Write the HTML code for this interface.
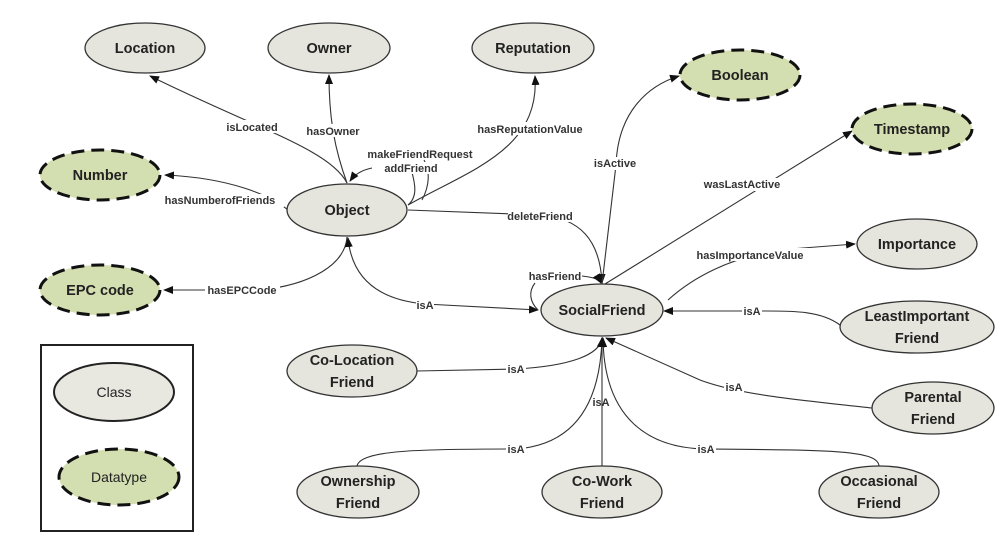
<!DOCTYPE html>
<html><head><meta charset="utf-8"><style>
body{margin:0;background:#fff;}
svg{display:block;}
.c{fill:#e5e5dd;stroke:#333;stroke-width:1.3}
.d{fill:#d3dfb0;stroke:#111;stroke-width:3;stroke-dasharray:13,7}
.n{font-family:"Liberation Sans",sans-serif;font-weight:bold;font-size:14.5px;fill:#222;text-anchor:middle}
.l{font-family:"Liberation Sans",sans-serif;font-weight:bold;font-size:11px;fill:#333;text-anchor:middle}
.e{fill:none;stroke:#333;stroke-width:1.1}
.lb{fill:#fff}
</style></head><body>
<svg width="1000" height="544" viewBox="0 0 1000 544" xmlns="http://www.w3.org/2000/svg">
<defs><marker id="a" markerWidth="10" markerHeight="8" refX="9" refY="4" orient="auto-start-reverse" markerUnits="userSpaceOnUse"><path d="M0,0 L10,4 L0,8 z" fill="#111"/></marker></defs>

<path class="e" d="M347,183 C330,150 260,130 150,76" marker-end="url(#a)"/>
<path class="e" d="M347,183 C335,150 329,120 329,75" marker-end="url(#a)"/>
<path class="e" d="M372,168 C362,170 355,174 350,181" marker-end="url(#a)"/>
<path class="e" d="M422,200 C430,185 430,170 424,160"/>
<path class="e" d="M408,205 C420,195 413,178 411,168"/>
<path class="e" d="M408,205 C470,170 540,150 535,76" marker-end="url(#a)"/>
<path class="e" d="M288,210 C270,195 230,178 165,175" marker-end="url(#a)"/>
<path class="e" d="M347,237 C345,265 310,285 260,290 L164,290" marker-end="url(#a)"/>
<path class="e" d="M348,238 C352,280 380,300 425,304 L538,310" marker-start="url(#a)" marker-end="url(#a)"/>
<path class="e" d="M408,210 L540,215 C580,218 600,240 602,283" marker-end="url(#a)"/>
<path class="e" d="M602,284 L616,165 C618,110 650,85 679,76" marker-end="url(#a)"/>
<path class="e" d="M605,284 L852,131" marker-end="url(#a)"/>
<path class="e" d="M668,300 C690,280 730,255 790,249 L855,244" marker-end="url(#a)"/>
<path class="e" d="M582,276 C590,277 598,278 601,283" marker-end="url(#a)"/>
<path class="e" d="M535,283 C528,292 530,302 538,310"/>
<path class="e" d="M840,325 C820,310 790,311 760,311 L664,311" marker-end="url(#a)"/>
<path class="e" d="M417,371 L516,369 C570,366 600,355 602,338" marker-end="url(#a)"/>
<path class="e" d="M872,408 C800,400 740,395 700,380 L606,338" marker-end="url(#a)"/>
<path class="e" d="M357,466 C360,450 420,449 516,449 C570,445 600,410 602,338" marker-end="url(#a)"/>
<path class="e" d="M602,466 L602,338" marker-end="url(#a)"/>
<path class="e" d="M879,466 C878,450 830,450 705,449 C650,448 604,420 603,338" marker-end="url(#a)"/>

<g>
<rect class="lb" x="222" y="120" width="58" height="13"/><text class="l" x="252" y="131">isLocated</text>
<rect class="lb" x="304" y="124" width="58" height="13"/><text class="l" x="333" y="135">hasOwner</text>
<text class="l" x="420" y="158">makeFriendRequest</text>
<rect class="lb" x="385" y="162" width="52" height="12"/><text class="l" x="411" y="172">addFriend</text>
<rect class="lb" x="473" y="122" width="114" height="13"/><text class="l" x="530" y="133">hasReputationValue</text>
<rect class="lb" x="157" y="194" width="127" height="13"/><text class="l" x="220" y="204">hasNumberofFriends</text>
<rect class="lb" x="205" y="284" width="75" height="13"/><text class="l" x="242" y="294">hasEPCCode</text>
<rect class="lb" x="416" y="299" width="18" height="13"/><text class="l" x="425" y="309">isA</text>
<rect class="lb" x="508" y="209" width="66" height="13"/><text class="l" x="540" y="220">deleteFriend</text>
<rect class="lb" x="592" y="157" width="46" height="13"/><text class="l" x="615" y="167">isActive</text>
<rect class="lb" x="700" y="178" width="85" height="13"/><text class="l" x="742" y="188">wasLastActive</text>
<rect class="lb" x="690" y="248" width="122" height="13"/><text class="l" x="750" y="259">hasImportanceValue</text>
<text class="l" x="555" y="280">hasFriend</text>
<rect class="lb" x="742" y="305" width="20" height="13"/><text class="l" x="752" y="315">isA</text>
<rect class="lb" x="506" y="363" width="20" height="13"/><text class="l" x="516" y="373">isA</text>
<rect class="lb" x="724" y="381" width="20" height="13"/><text class="l" x="734" y="391">isA</text>
<text class="l" x="601" y="406">isA</text>
<rect class="lb" x="506" y="443" width="20" height="13"/><text class="l" x="516" y="453">isA</text>
<rect class="lb" x="696" y="443" width="20" height="13"/><text class="l" x="706" y="453">isA</text>
</g>

<ellipse class="c" cx="145" cy="48" rx="60" ry="25"/><text class="n" x="145" y="53">Location</text>
<ellipse class="c" cx="329" cy="48" rx="61" ry="25"/><text class="n" x="329" y="53">Owner</text>
<ellipse class="c" cx="533" cy="48" rx="61" ry="25"/><text class="n" x="533" y="53">Reputation</text>
<ellipse class="d" cx="100" cy="175" rx="60" ry="25"/><text class="n" x="100" y="180">Number</text>
<ellipse class="c" cx="347" cy="210" rx="60" ry="26"/><text class="n" x="347" y="215">Object</text>
<ellipse class="d" cx="100" cy="290" rx="60" ry="25"/><text class="n" x="100" y="295">EPC code</text>
<ellipse class="d" cx="740" cy="75" rx="60" ry="25"/><text class="n" x="740" y="80">Boolean</text>
<ellipse class="d" cx="912" cy="129" rx="60" ry="25"/><text class="n" x="912" y="134">Timestamp</text>
<ellipse class="c" cx="917" cy="244" rx="60" ry="25"/><text class="n" x="917" y="249">Importance</text>
<ellipse class="c" cx="602" cy="310" rx="61" ry="26"/><text class="n" x="602" y="315">SocialFriend</text>
<ellipse class="c" cx="917" cy="327" rx="77" ry="26"/><text class="n" x="917" y="321">LeastImportant</text><text class="n" x="917" y="343">Friend</text>
<ellipse class="c" cx="933" cy="408" rx="61" ry="26"/><text class="n" x="933" y="402">Parental</text><text class="n" x="933" y="424">Friend</text>
<ellipse class="c" cx="352" cy="371" rx="65" ry="26"/><text class="n" x="352" y="365">Co-Location</text><text class="n" x="352" y="387">Friend</text>
<ellipse class="c" cx="358" cy="492" rx="61" ry="26"/><text class="n" x="358" y="486">Ownership</text><text class="n" x="358" y="508">Friend</text>
<ellipse class="c" cx="602" cy="492" rx="60" ry="26"/><text class="n" x="602" y="486">Co-Work</text><text class="n" x="602" y="508">Friend</text>
<ellipse class="c" cx="879" cy="492" rx="60" ry="26"/><text class="n" x="879" y="486">Occasional</text><text class="n" x="879" y="508">Friend</text>

<rect x="41" y="345" width="152" height="186" fill="#fff" stroke="#222" stroke-width="2"/>
<ellipse cx="114" cy="392" rx="60" ry="29" fill="#e8e8e0" stroke="#222" stroke-width="2"/>
<text x="114" y="397" text-anchor="middle" font-family="Liberation Sans,sans-serif" font-size="14" fill="#222">Class</text>
<ellipse class="d" cx="119" cy="477" rx="60" ry="28" stroke-width="2"/>
<text x="119" y="482" text-anchor="middle" font-family="Liberation Sans,sans-serif" font-size="14" fill="#222">Datatype</text>
</svg>
</body></html>
